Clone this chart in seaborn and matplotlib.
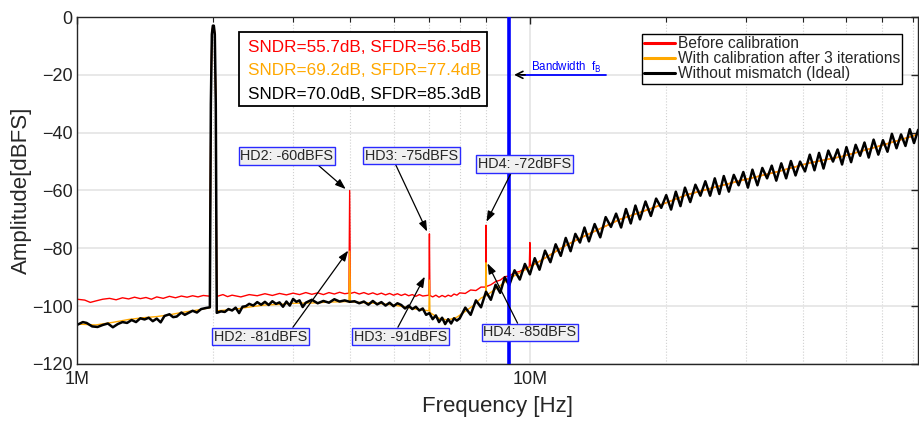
import numpy as np
import pandas as pd
import seaborn as sns
import matplotlib.pyplot as plt
from matplotlib.ticker import LogLocator, FixedLocator, FuncFormatter, NullFormatter
from matplotlib.patches import Rectangle

# -------------------------------------------------
# Spectrum data (frequency in MHz, amplitude in dBFS)
# -------------------------------------------------
red_f = [1.00, 1.04, 1.07, 1.10, 1.14, 1.18, 1.22, 1.26, 1.30, 1.34, 1.38, 1.42, 1.46, 1.50,
         1.55, 1.60, 1.65, 1.70, 1.75, 1.80, 1.85, 1.90, 1.95,
         1.965, 1.975, 1.985, 1.995, 2.005, 2.015, 2.025, 2.035,
         2.04, 2.10, 2.15, 2.20, 2.30, 2.40, 2.50, 2.60, 2.70, 2.80, 2.90, 3.00, 3.10, 3.20,
         3.30, 3.40, 3.50, 3.60, 3.70, 3.80, 3.90, 3.985, 4.00, 4.015, 4.10, 4.20, 4.30, 4.40,
         4.50, 4.60, 4.70, 4.80, 4.90, 5.00, 5.10, 5.20, 5.30, 5.40, 5.50, 5.60, 5.70, 5.80,
         5.985, 6.00, 6.015, 6.10, 6.20, 6.30, 6.40, 6.50, 6.60, 6.70, 6.80, 6.90, 7.00, 7.20,
         7.40, 7.60, 7.80, 7.985, 8.00, 8.015, 8.20, 8.40, 8.60, 8.80, 9.00, 9.25, 9.50, 9.75,
         9.97, 10.0, 10.03, 10.5, 12.0, 13.3, 15.8, 18.7, 22.2, 26.0, 29.5, 35.0, 41.4, 49.0,
         58.0, 69.0, 72.0]
red_db = [-97.6, -97.9, -98.7, -98.2, -97.6, -97.3, -97.8, -97.1, -97.5, -96.9, -97.4, -97.0, -97.6, -96.8,
          -97.3, -96.6, -97.1, -96.5, -96.9, -96.4, -96.8, -96.3, -96.5,
          -96.5, -30, -6, -3, -3, -6, -30, -96.6,
          -96.6, -96.0, -96.7, -96.2, -96.8, -96.0, -96.4, -95.7, -96.3, -95.6, -96.1, -95.5, -96.0, -95.3,
          -95.9, -95.4, -96.0, -95.3, -95.8, -95.2, -95.7, -95.5, -60, -95.6, -95.2, -95.8, -95.3, -95.9,
          -95.4, -96.0, -95.5, -96.1, -95.6, -96.2, -95.7, -96.3, -95.8, -96.4, -96.0, -96.6, -96.0, -96.5,
          -96.2, -75, -96.3, -96.8, -96.2, -96.9, -96.3, -96.8, -96.2, -96.6, -95.8, -96.2, -95.4, -95.6,
          -94.4, -94.6, -93.4, -93.4, -72, -93.2, -92.6, -91.5, -91.0, -89.8, -89.6, -88.4, -88.0, -86.9,
          -86.5, -78, -86.2, -84.5, -79.0, -75.5, -70.0, -66.0, -61.5, -58.6, -56.4, -53.6, -50.5, -48.2,
          -45.0, -41.5, -40.5]

orange_f = [1.00, 1.10, 1.20, 1.30, 1.40, 1.50, 1.60, 1.70, 1.80, 1.90, 1.96,
            1.965, 1.975, 1.985, 1.995, 2.005, 2.015, 2.025, 2.035,
            2.04, 2.20, 2.40, 2.60, 2.80, 3.00, 3.30, 3.60, 3.985, 4.00, 4.015, 4.30, 4.60,
            5.00, 5.30, 5.60, 5.985, 6.00, 6.015, 6.30, 6.60, 6.90, 7.20, 7.50, 7.80, 7.985,
            8.00, 8.015, 8.50, 9.00, 10.0, 12.0, 13.3, 15.8, 18.7, 22.2, 26.0, 29.5, 35.0,
            41.4, 49.0, 58.0, 69.0, 72.0]
orange_db = [-106.2, -106.5, -105.6, -104.6, -104.0, -103.6, -103.0, -102.2, -101.6, -101.0, -100.6,
             -100.6, -30, -6, -3, -3, -6, -30, -101.8,
             -101.6, -101.2, -100.3, -99.6, -99.4, -99.0, -98.9, -98.6, -98.4, -81, -98.5, -98.8, -99.0,
             -99.6, -100.3, -101.0, -101.6, -91, -102.2, -104.2, -104.8, -103.8, -101.8, -99.8, -97.2, -96.4,
             -85, -96.3, -93.5, -90.5, -86.5, -79.0, -75.5, -70.0, -66.0, -61.5, -58.6, -56.4, -53.6,
             -50.5, -48.2, -45.0, -41.5, -40.5]

black_f = [1.00, 1.03, 1.05, 1.08, 1.11, 1.14, 1.17, 1.20, 1.23, 1.26, 1.29, 1.32, 1.35, 1.38,
           1.41, 1.44, 1.47, 1.50, 1.53, 1.56, 1.60, 1.63, 1.66, 1.70, 1.73, 1.76, 1.80, 1.84,
           1.88, 1.93, 1.965, 1.975, 1.985, 1.995, 2.005, 2.015, 2.025, 2.035,
           2.08, 2.12, 2.16, 2.20, 2.24, 2.28, 2.32, 2.36, 2.40, 2.45, 2.50, 2.55, 2.60, 2.65,
           2.70, 2.75, 2.80, 2.85, 2.90, 2.95, 3.00, 3.05, 3.10, 3.15, 3.20, 3.30, 3.40, 3.50,
           3.60, 3.70, 3.80, 3.90, 4.00, 4.10, 4.20, 4.30, 4.40, 4.50, 4.60, 4.70, 4.80, 4.90,
           5.00, 5.10, 5.20, 5.30, 5.40, 5.50, 5.60, 5.70, 5.80, 5.90, 6.00, 6.10, 6.20, 6.30,
           6.40, 6.50, 6.60, 6.70, 6.80, 6.90,
           7.0, 7.2, 7.4, 7.6, 7.8, 8.0, 8.2, 8.4, 8.6, 8.8, 9.0, 9.25, 9.5, 9.75, 10.0, 10.25,
           10.5, 10.8, 11.1, 11.4, 11.7, 12.0, 12.3, 12.6, 12.9, 13.2, 13.5, 13.9, 14.3, 14.7,
           15.1, 15.5, 15.9, 16.3, 16.7, 17.1, 17.5, 18.0, 18.5, 19.0, 19.5, 20.0, 20.5, 21.0,
           21.5, 22.0, 22.6, 23.2, 23.8, 24.4, 25.0, 25.6, 26.2, 26.8, 27.5, 28.2, 28.9, 29.6,
           30.3, 31.0, 31.8, 32.6, 33.4, 34.2, 35.0, 35.9, 36.8, 37.7, 38.6, 39.5, 40.5, 41.5,
           42.5, 43.5, 44.5, 45.6, 46.7, 47.8, 48.9, 50.0, 51.2, 52.4, 53.6, 54.8, 56.0, 57.4,
           58.8, 60.2, 61.6, 63.0, 64.5, 66.0, 67.5, 69.0, 70.5, 72.0]
black_db = [-106.5, -105.5, -105.8, -107.0, -107.2, -106.5, -106.0, -107.3, -106.2, -105.5, -105.8, -104.8, -105.5, -104.2,
            -104.6, -104.0, -105.2, -104.3, -105.6, -103.4, -102.8, -103.8, -103.6, -102.2, -103.0, -102.4, -101.6, -102.2,
            -101.0, -100.6, -100.4, -30, -6, -3, -3, -6, -30, -102.3,
            -101.8, -102.0, -101.0, -101.5, -100.5, -102.4, -100.2, -100.0, -99.2, -99.8, -98.6, -99.5, -98.5, -99.6,
            -98.3, -99.2, -98.7, -100.2, -98.4, -99.8, -97.5, -98.5, -98.0, -100.3, -98.8, -97.8, -99.0, -98.2,
            -98.8, -97.6, -98.4, -98.0, -98.5, -98.3, -99.0, -98.4, -99.5, -98.2, -99.4, -98.6, -99.8, -98.8,
            -100.0, -99.0, -99.6, -100.8, -99.8, -101.0, -100.2, -101.5, -100.8, -103.0, -102.4, -104.5, -103.2, -105.5,
            -104.0, -106.2, -104.5, -106.0, -104.2, -105.0,
            -104.2, -100.5, -103.0, -98.0, -100.4, -95.0, -97.8, -92.6, -95.4, -90.0, -92.8, -87.6, -90.8, -85.4, -89.0, -83.4,
            -87.4, -80.8, -84.8, -78.6, -82.6, -76.4, -81.0, -75.0, -78.0, -72.8, -77.6, -71.6, -76.2, -69.2,
            -72.6, -68.0, -72.8, -66.4, -71.4, -65.2, -70.0, -63.8, -68.8, -62.8, -66.0, -61.6, -66.6, -60.4,
            -65.4, -59.0, -64.0, -58.0, -61.8, -56.8, -61.8, -55.8, -61.2, -55.0, -60.4, -54.6, -58.2, -53.6,
            -59.0, -52.8, -58.2, -52.2, -55.8, -51.4, -56.6, -50.6, -55.8, -49.8, -54.8, -50.0, -53.4, -47.6,
            -53.0, -47.0, -52.4, -46.2, -50.0, -45.8, -51.0, -45.0, -50.2, -44.2, -48.0, -43.4, -48.6, -42.4,
            -47.6, -42.6, -46.6, -40.4, -45.4, -40.6, -44.6, -38.8, -43.6, -39.0]

metrics = ["SNDR=55.7dB, SFDR=56.5dB", "SNDR=69.2dB, SFDR=77.4dB", "SNDR=70.0dB, SFDR=85.3dB"]
labels = ["Before calibration", "With calibration after 3 iterations", "Without mismatch (Ideal)"]
colors = ["#ff0000", "#ffa800", "#000000"]
bandwidth = 9.0  # MHz

# (label, arrow tip MHz, arrow tip dB, text MHz, text dB, relpos)
notes = [
    ("HD2: -60dBFS", 3.92, -59.5, 2.908, -48.1, (0.81, 0.0)),
    ("HD3: -75dBFS", 5.93, -74.2, 5.475, -47.9, (0.32, 0.0)),
    ("HD4: -72dBFS", 8.02, -70.8, 9.72, -50.8, (0.37, 0.0)),
    ("HD2: -81dBFS", 3.97, -80.8, 2.542, -110.5, (0.83, 1.0)),
    ("HD3: -91dBFS", 5.86, -89.8, 5.178, -110.5, (0.46, 1.0)),
    ("HD4: -85dBFS", 8.06, -85.2, 10.0, -109.1, (0.38, 1.0)),
]

# -------------------------------------------------
# Plot
# -------------------------------------------------
sns.set_style("white")
plt.rcParams["font.family"] = ["Liberation Sans", "DejaVu Sans"]

fig = plt.figure(figsize=(9.2, 4.23), dpi=100)
ax = fig.add_axes([0.0837, 0.1395, 0.9143, 0.8203])

series = [(red_f, red_db, 1.0), (orange_f, orange_db, 1.0), (black_f, black_db, 1.8)]
for (f, db, lw), lab, col in zip(series, labels, colors):
    df = pd.DataFrame({"freq": np.array(f) * 1e6, "dB": db})
    sns.lineplot(data=df, x="freq", y="dB", color=col, lw=lw, estimator=None,
                 sort=False, ax=ax, label=lab)

ax.set_xscale("log")
ax.set_xlim(1e6, 7.2e7)
ax.set_ylim(-120, 0)

# bandwidth marker
ax.axvline(bandwidth * 1e6, color="#0000ff", lw=2.6, zorder=5)
ax.plot([9.6e6, 14.7e6], [-20, -20], color="#0000ff", lw=1.3, zorder=5)
ax.annotate("", xy=(9.1e6, -20), xytext=(9.9e6, -20),
            arrowprops=dict(arrowstyle="->,head_length=0.5,head_width=0.25", color="black", lw=1.2),
            zorder=6)
ax.text(10.05e6, -17.6, r"Bandwidth  f$_{\mathrm{B}}$", color="#0000ff", fontsize=8.3,
        va="center", ha="left")

# harmonic annotations
for txt, fx, fy, tx, ty, rp in notes:
    ax.annotate(txt, xy=(fx * 1e6, fy), xytext=(tx * 1e6, ty), ha="center", va="center",
                fontsize=10.4, zorder=7,
                bbox=dict(boxstyle="square,pad=0.12", fc="#f0f0f0", ec="#2a2aff", lw=1),
                arrowprops=dict(arrowstyle="-|>,head_length=0.6,head_width=0.22", color="black",
                                lw=0.9, relpos=rp, shrinkA=0, shrinkB=0))

# SNDR / SFDR box
ax.add_patch(Rectangle((0.1926, 0.7435), 0.2949, 0.2135, transform=ax.transAxes, fill=True,
                       fc="white", ec="black", lw=1.3, zorder=6))
for txt, col, yy in zip(metrics, colors, [0.9135, 0.8444, 0.7781]):
    ax.text(0.2033, yy, txt, color=col, fontsize=12.3, transform=ax.transAxes,
            va="center", ha="left", zorder=7)

# legend
leg = ax.legend(loc="upper right", bbox_to_anchor=(0.981, 0.951), fontsize=11.2,
                frameon=True, fancybox=False, edgecolor="black", framealpha=1,
                borderpad=0.15, labelspacing=0.0, handlelength=2.0, handletextpad=0.15,
                borderaxespad=0)
leg.get_frame().set_linewidth(1.0)
leg.set_zorder(8)
for h in leg.get_lines():
    h.set_linewidth(2.2)

# axes styling
ax.xaxis.set_major_locator(FixedLocator([1e6, 1e7]))
ax.xaxis.set_major_formatter(FuncFormatter(lambda v, p: f"{int(round(v / 1e6))}M"))
ax.xaxis.set_minor_locator(LogLocator(base=10, subs=range(2, 10)))
ax.xaxis.set_minor_formatter(NullFormatter())
ax.set_yticks(range(-120, 1, 20))

ax.set_axisbelow(True)
ax.grid(which="major", axis="both", color="#e4e4e4", lw=1.2, ls="-")
ax.grid(which="minor", axis="x", color="#d0d0d0", lw=0.8, ls=":")

ax.tick_params(which="both", direction="in", top=True, right=True, colors="#222222")
ax.tick_params(axis="y", which="major", length=5, width=1, labelsize=13, pad=3)
ax.tick_params(axis="x", which="major", length=5, width=1, labelsize=13, pad=5)
ax.tick_params(which="minor", length=3.5, width=0.8)
for s in ax.spines.values():
    s.set_color("#262626")
    s.set_linewidth(1.0)

ax.set_xlabel("Frequency [Hz]", fontsize=16, labelpad=6)
ax.set_ylabel("Amplitude[dBFS]", fontsize=16, labelpad=0)

fig.savefig("out.png", dpi=100)
